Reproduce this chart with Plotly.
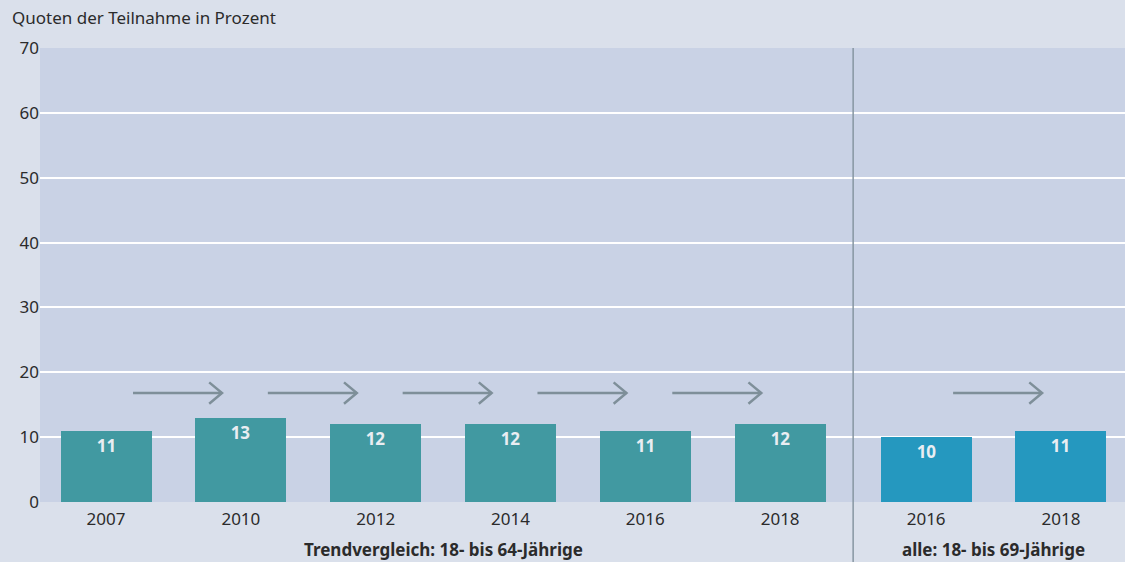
import plotly.graph_objects as go

# Data
years_trend = ["2007", "2010", "2012", "2014", "2016", "2018"]
values_trend = [11, 13, 12, 12, 11, 12]
years_all = ["2016", "2018"]
values_all = [10, 11]
group_labels = ["Trendvergleich: 18- bis 64-Jährige", "alle: 18- bis 69-Jährige"]
y_title = "Quoten der Teilnahme in Prozent"

C = {
    "paper": "#dae0eb", "plot": "#c9d2e5",
    "teal": "#4199a1", "blue": "#2598bf",
    "arrow": "#7e8f99", "sep": "#8796a2",
    "text": "#2b2b2b", "bartext": "#e9edf2",
}
FONT = "Noto Sans, PT Sans, sans-serif"
FS = 17

GAP = 1.083  # extra spacing between the two groups
x_trend = list(range(len(years_trend)))
x_all = [x_trend[-1] + GAP + i for i in range(len(years_all))]
sep_x = (x_trend[-1] + x_all[0]) / 2
BAR_W = 0.675

fig = go.Figure()
for xs, vals, col in [(x_trend, values_trend, C["teal"]), (x_all, values_all, C["blue"])]:
    fig.add_trace(go.Bar(
        x=xs, y=vals, width=BAR_W, marker_color=col, marker_line_width=0,
        text=vals, textposition="inside", insidetextanchor="end",
        textfont=dict(color=C["bartext"], size=17, family=FONT, weight="bold"),
        showlegend=False, hoverinfo="skip",
    ))

# Trend arrows between consecutive bars
ARROW_Y = 16.8
def add_arrow(x0):
    xa, xb = x0 + 0.2, x0 + 0.86
    hx, hy = 0.095, 1.65
    fig.add_trace(go.Scatter(
        x=[xa, xb, None, xb - hx, xb, xb - hx],
        y=[ARROW_Y, ARROW_Y, None, ARROW_Y + hy, ARROW_Y, ARROW_Y - hy],
        mode="lines", line=dict(color=C["arrow"], width=2.5),
        showlegend=False, hoverinfo="skip",
    ))

for x0 in x_trend[:-1]:
    add_arrow(x0)
for x0 in x_all[:-1]:
    add_arrow(x0)

# Separator between groups
fig.add_shape(type="line", xref="x", yref="paper", x0=sep_x, x1=sep_x,
              y0=-0.135, y1=1, line=dict(color=C["sep"], width=1.5))

# Group labels
for xs, lbl in [(x_trend, group_labels[0]), (x_all, group_labels[1])]:
    fig.add_annotation(text=f"<b>{lbl}</b>", xref="x", yref="paper",
                       x=(xs[0] + xs[-1]) / 2, y=-0.104, yanchor="middle",
                       showarrow=False, font=dict(size=FS, color=C["text"], family=FONT))

fig.add_annotation(text=y_title, xref="paper", yref="paper", x=-0.0276, y=1.068,
                   xanchor="left", yanchor="middle", showarrow=False,
                   font=dict(size=FS, color=C["text"], family=FONT))

fig.update_layout(
    width=1125, height=562,
    paper_bgcolor=C["paper"], plot_bgcolor=C["plot"],
    margin=dict(l=40, r=0, t=48, b=60),
    font=dict(family=FONT, size=FS, color=C["text"]),
    bargap=0,
    xaxis=dict(
        range=[-0.49, x_all[-1] + 0.475],
        tickvals=x_trend + x_all, ticktext=years_trend + years_all,
        showgrid=False, zeroline=False, showline=False, ticks="",
        ticklabelstandoff=5,
        tickfont=dict(size=FS, color=C["text"]),
    ),
    yaxis=dict(
        range=[0, 70], dtick=10, showgrid=True, gridcolor="#ffffff", gridwidth=1.5,
        zeroline=False, showline=False, ticks="",
        tickfont=dict(size=FS, color=C["text"]),
    ),
)

fig.write_html("out.html", config={"displayModeBar": False},
               post_script="document.body.style.margin='0';")
